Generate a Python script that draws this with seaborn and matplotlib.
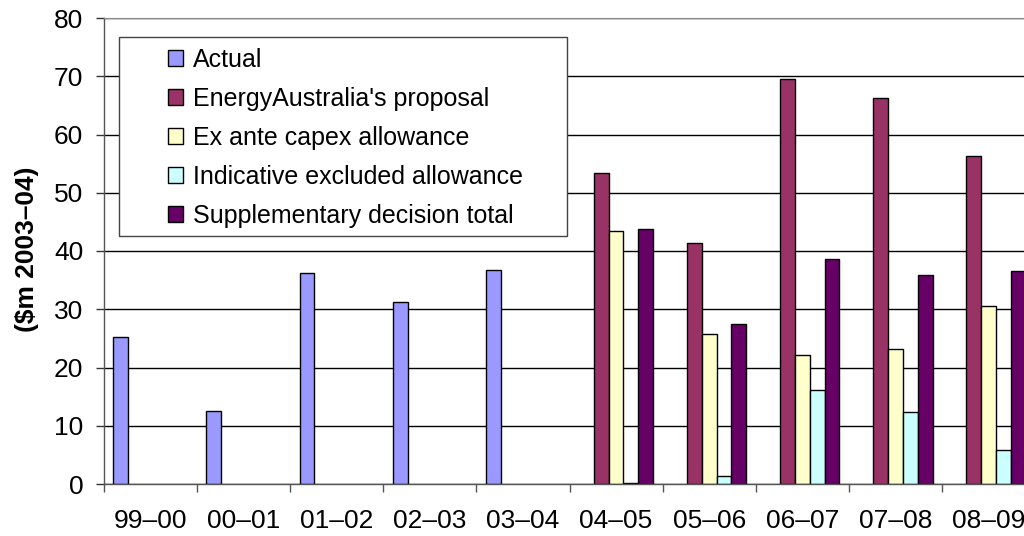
import numpy as np
import pandas as pd
import matplotlib
matplotlib.use("Agg")
import matplotlib.pyplot as plt
from matplotlib.patches import Rectangle
import seaborn as sns

periods = ["99–00", "00–01", "01–02", "02–03", "03–04",
           "04–05", "05–06", "06–07", "07–08", "08–09"]
series_names = ["Actual", "EnergyAustralia's proposal", "Ex ante capex allowance",
                "Indicative excluded allowance", "Supplementary decision total"]
nan = np.nan
actual = [25.3, 12.6, 36.3, 31.2, 36.8, nan, nan, nan, nan, nan]
proposal = [nan, nan, nan, nan, nan, 53.4, 41.4, 69.6, 66.2, 56.3]
ex_ante = [nan, nan, nan, nan, nan, 43.4, 25.8, 22.1, 23.2, 30.5]
indicative = [nan, nan, nan, nan, nan, 0.2, 1.4, 16.1, 12.3, 5.8]
supplementary = [nan, nan, nan, nan, nan, 43.7, 27.4, 38.6, 35.8, 36.6]
colors = ["#9999FF", "#993366", "#FFFFCC", "#CCFFFF", "#660066"]
y_ticks = [0, 10, 20, 30, 40, 50, 60, 70, 80]

values = [actual, proposal, ex_ante, indicative, supplementary]
rows = []
for name, vals in zip(series_names, values):
    for p, v in zip(periods, vals):
        rows.append({"period": p, "series": name, "value": v})
df = pd.DataFrame(rows)

sns.set_style("white")
plt.rcParams["font.family"] = ["Liberation Sans", "DejaVu Sans"]
plt.rcParams["text.color"] = "black"
plt.rcParams["xtick.color"] = "black"
plt.rcParams["ytick.color"] = "black"
plt.rcParams["axes.labelcolor"] = "black"

W, H = 1024, 536
fig = plt.figure(figsize=(W / 100, H / 100), dpi=100)
ax = fig.add_axes([104 / W, 1 - 484 / H, 931 / W, 466 / H])

sns.barplot(data=df, x="period", y="value", hue="series", order=periods,
            hue_order=series_names, palette=colors, saturation=1, dodge=True,
            width=0.8, edgecolor="black", linewidth=1.0, errorbar=None, ax=ax,
            legend=True)

ax.set_xlim(-0.5, len(periods) - 0.5)
ax.set_ylim(0, 80)
ax.set_yticks(y_ticks)
ax.set_yticklabels([str(t) for t in y_ticks], fontsize=19)
ax.yaxis.grid(True, color="black", linewidth=1.0)
ax.set_axisbelow(True)

bounds = np.arange(-0.5, len(periods), 1.0)
ax.set_xticks(bounds, labels=[""] * len(bounds))
ax.set_xticks(range(len(periods)), labels=periods, minor=True)
ax.tick_params(axis="x", which="major", direction="out", length=6, width=1,
               color="#555555", bottom=True)
ax.tick_params(axis="x", which="minor", length=0, pad=18, labelsize=19)
ax.tick_params(axis="y", direction="out", length=6, width=1, color="#333333",
               left=True, pad=9)

for s in ["left", "bottom"]:
    ax.spines[s].set_color("#555555")
    ax.spines[s].set_linewidth(1.0)
ax.spines["top"].set_color("#888888")
ax.spines["right"].set_visible(False)

ax.set_xlabel("")
ax.set_ylabel("")
fig.text(27 / W, 1 - 249 / H, "($m 2003–04)", rotation=90, ha="center",
         va="center", fontsize=19, fontweight="bold")

handles, labels = ax.get_legend_handles_labels()
if ax.get_legend() is not None:
    ax.get_legend().remove()

rect = Rectangle((119 / W, 1 - 236 / H), 448 / W, 199 / H,
                 transform=fig.transFigure, facecolor="white",
                 edgecolor="#444444", linewidth=1.0, zorder=4)
fig.add_artist(rect)
leg = fig.legend(handles, labels, loc="upper left",
                 bbox_to_anchor=(168 / W, 1 - 48 / H),
                 bbox_transform=fig.transFigure, frameon=False,
                 fontsize=18, borderpad=0, borderaxespad=0,
                 handlelength=0.58, handleheight=0.58, handletextpad=0.42,
                 labelspacing=0.6)
leg.set_zorder(5)

fig.savefig("out.png", dpi=100)
